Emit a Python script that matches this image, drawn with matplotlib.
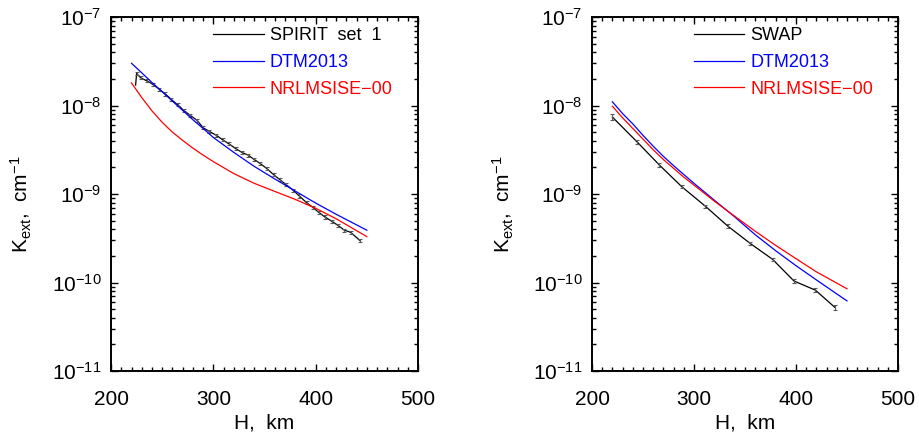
import matplotlib.pyplot as plt
import numpy as np
from matplotlib.ticker import LogLocator, MultipleLocator, NullFormatter

plt.rcParams['font.family'] = ['Liberation Sans', 'DejaVu Sans']
plt.rcParams['mathtext.fontset'] = 'custom'
plt.rcParams['mathtext.rm'] = 'Liberation Sans'
plt.rcParams['mathtext.it'] = 'Liberation Sans:italic'

# --- left panel: SPIRIT set 1 ---
spirit_h = [224, 225, 229, 235, 241, 247, 253, 259, 265, 271,
            277, 284, 290, 296, 303, 309, 315, 322, 328, 334,
            340, 346, 352, 359, 365, 371, 378, 384, 391, 397,
            403, 409, 416, 422, 428, 434, 443]
spirit_k = [1.7e-8, 2.3e-8, 2.05e-8, 1.9e-8, 1.73e-8, 1.53e-8, 1.35e-8, 1.17e-8, 1.02e-8, 8.8e-9,
            7.8e-9, 6.8e-9, 5.6e-9, 5.1e-9, 4.6e-9, 4.1e-9, 3.7e-9, 3.25e-9, 2.95e-9, 2.75e-9,
            2.45e-9, 2.2e-9, 1.95e-9, 1.65e-9, 1.45e-9, 1.28e-9, 1.1e-9, 9.5e-10, 8.0e-10, 7.1e-10,
            6.2e-10, 5.5e-10, 4.9e-10, 4.4e-10, 3.9e-10, 3.7e-10, 3.0e-10]

model_h = [220, 230, 240, 250, 260, 270, 280, 290, 300, 320, 340, 360, 380, 400, 420, 450]
dtm_left = [3.0e-8, 2.34e-8, 1.82e-8, 1.43e-8, 1.12e-8, 8.8e-9, 6.9e-9, 5.5e-9, 4.35e-9,
            2.95e-9, 2.05e-9, 1.48e-9, 1.08e-9, 7.9e-10, 5.9e-10, 3.9e-10]
nrl_left = [1.8e-8, 1.23e-8, 8.7e-9, 6.45e-9, 5.0e-9, 4.03e-9, 3.3e-9, 2.75e-9, 2.32e-9,
            1.7e-9, 1.32e-9, 1.07e-9, 8.7e-10, 6.9e-10, 5.25e-10, 3.3e-10]

# --- right panel: SWAP ---
swap_h = [220, 244, 266, 288, 311, 333, 355, 377, 398, 419, 438]
swap_k = [7.4e-9, 3.9e-9, 2.13e-9, 1.21e-9, 7.3e-10, 4.35e-10, 2.77e-10, 1.83e-10, 1.04e-10, 8.2e-11, 5.25e-11]
swap_err = [0.6e-9, 0.2e-9, 0.1e-9, 0.05e-9, 0.03e-9, 0.02e-9, 0.012e-9, 0.008e-9, 0.005e-9, 0.004e-9, 0.003e-9]
dtm_right = [1.1e-8, 8.1e-9, 6.2e-9, 4.6e-9, 3.47e-9, 2.66e-9, 2.09e-9, 1.66e-9, 1.32e-9,
             8.5e-10, 5.5e-10, 3.47e-10, 2.29e-10, 1.55e-10, 1.07e-10, 6.2e-11]
nrl_right = [9.8e-9, 7.25e-9, 5.5e-9, 4.17e-9, 3.16e-9, 2.45e-9, 1.95e-9, 1.55e-9, 1.26e-9,
             8.3e-10, 5.6e-10, 3.8e-10, 2.63e-10, 1.86e-10, 1.32e-10, 8.5e-11]

TICK_FS = 15
LEG_FS = 13


def setup_axes(ax):
    ax.set_yscale('log')
    ax.set_xlim(200, 500)
    ax.set_ylim(1e-11, 1e-7)
    ax.xaxis.set_major_locator(MultipleLocator(100))
    ax.xaxis.set_minor_locator(MultipleLocator(10))
    ax.yaxis.set_major_locator(LogLocator(base=10, numticks=10))
    ax.yaxis.set_minor_locator(LogLocator(base=10, subs=np.arange(2, 10), numticks=10))
    ax.yaxis.set_minor_formatter(NullFormatter())
    ax.tick_params(which='both', direction='in', top=True, right=True, width=1.0,
                   labelsize=TICK_FS)
    ax.tick_params(which='major', length=5)
    ax.tick_params(which='minor', length=2.7)
    ax.tick_params(axis='x', pad=14)
    ax.tick_params(axis='y', pad=7)
    for s in ax.spines.values():
        s.set_linewidth(1.4)
    ax.set_xlabel('H,  km', fontsize=TICK_FS, labelpad=3)
    ax.set_ylabel(r'K$_{\rm ext}$,  cm$^{-1}$', fontsize=TICK_FS)
    ax.yaxis.set_label_coords(-0.25, 0.47)


def draw_panel(ax, obs_h, obs_k, obs_err, obs_label, dtm, nrl, skip_first):
    obs_h = np.array(obs_h)
    obs_k = np.array(obs_k)
    obs_err = np.array(obs_err)
    ax.plot(obs_h, obs_k, color='black', lw=0.9, label=obs_label)
    i0 = 1 if skip_first else 0
    ax.errorbar(obs_h[i0:], obs_k[i0:], yerr=obs_err[i0:], fmt='none',
                ecolor='0.35', elinewidth=0.8, capsize=1.5, capthick=0.8)
    ax.plot(model_h, dtm, color='#0000ff', lw=0.9, label='DTM2013')
    ax.plot(model_h, nrl, color='#ff0000', lw=0.9, label='NRLMSISE−00')
    setup_axes(ax)
    ax.legend(loc='upper left', bbox_to_anchor=(0.332, 0.972), frameon=False,
              labelcolor='linecolor', fontsize=LEG_FS, handlelength=2.8,
              handletextpad=0.35, labelspacing=0.55, borderaxespad=0, borderpad=0)


fig = plt.figure(figsize=(9.2, 4.36), dpi=100)
ax1 = fig.add_axes([0.1207, 0.149, 0.3337, 0.812])
ax2 = fig.add_axes([0.6435, 0.149, 0.3326, 0.812])

spirit_err = [0.04 * k for k in spirit_k]
draw_panel(ax1, spirit_h, spirit_k, spirit_err, 'SPIRIT  set  1', dtm_left, nrl_left, True)
draw_panel(ax2, swap_h, swap_k, swap_err, 'SWAP', dtm_right, nrl_right, False)

fig.savefig('out.png', dpi=100)
